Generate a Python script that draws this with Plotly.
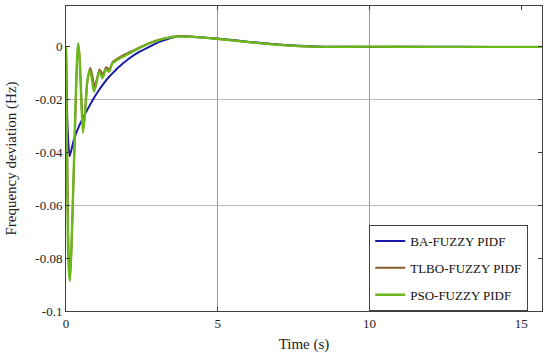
import plotly.graph_objects as go

# ---- data ----
t_ba = [0, 0.05, 0.12, 0.25, 0.43, 0.6, 0.76, 0.92, 1.09, 1.25, 1.42, 1.6, 1.75, 2.08,
        2.41, 2.74, 3.07, 3.4, 3.7, 4.2, 4.95, 5.5, 6.04, 7.0, 7.7, 8.5, 10, 12, 14, 15.7]
y_ba = [0, -0.030, -0.0414, -0.0355, -0.0300, -0.0260, -0.0226, -0.0193, -0.0163, -0.0137,
        -0.0113, -0.0092, -0.0075, -0.0044, -0.0019, 0.0, 0.0019, 0.0032, 0.0040, 0.0038,
        0.0032, 0.0026, 0.0019, 0.0009, 0.0004, 0.0001, 0.0, 0.0001, 0.0, 0.0]

t_tlbo = [0, 0.04, 0.09, 0.14, 0.19, 0.23, 0.28, 0.34, 0.39, 0.42, 0.46, 0.51, 0.57, 0.63,
          0.71, 0.8, 0.87, 0.93, 1.01, 1.1, 1.16, 1.21, 1.27, 1.32, 1.38, 1.43, 1.54, 1.75,
          2.08, 2.41, 2.74, 3.07, 3.4, 3.7, 4.2, 4.95, 6.04, 7.0, 7.7, 8.5, 10, 12, 14, 15.7]
y_tlbo = [0, -0.038, -0.080, -0.0870, -0.073, -0.058, -0.038, -0.014, -0.001, 0.0, -0.006,
          -0.020, -0.0310, -0.0245, -0.0125, -0.0080, -0.0110, -0.0150, -0.0125, -0.0085,
          -0.0095, -0.0107, -0.0090, -0.0077, -0.0082, -0.0085, -0.0057, -0.0040, -0.0021,
          -0.0003, 0.0014, 0.0027, 0.0036, 0.0041, 0.0039, 0.0031, 0.0018, 0.0008, 0.0003,
          0.0, 0.0001, 0.0, 0.0, 0.0]

t_pso = [0, 0.03, 0.08, 0.13, 0.18, 0.22, 0.27, 0.33, 0.38, 0.41, 0.45, 0.5, 0.56, 0.62,
         0.7, 0.78, 0.85, 0.92, 1.0, 1.09, 1.15, 1.2, 1.26, 1.31, 1.37, 1.42, 1.53, 1.75,
         2.08, 2.41, 2.74, 3.07, 3.4, 3.7, 4.2, 4.95, 6.04, 7.0, 7.7, 8.5, 10, 12, 14, 15.7]
y_pso = [0, -0.040, -0.082, -0.0887, -0.075, -0.060, -0.040, -0.015, -0.001, 0.0013, -0.005,
         -0.020, -0.0325, -0.0260, -0.0130, -0.0088, -0.0120, -0.0170, -0.0140, -0.0094,
         -0.0105, -0.0119, -0.0100, -0.0085, -0.0090, -0.0094, -0.0062, -0.0045, -0.0025,
         -0.0005, 0.0013, 0.0026, 0.0035, 0.0040, 0.0038, 0.0031, 0.0018, 0.0008, 0.0003,
         0.0, 0.0001, 0.0, 0.0, 0.0]

x_ticks = [0, 5, 10, 15]
y_ticks = [0, -0.02, -0.04, -0.06, -0.08, -0.1]
y_tick_text = ["0", "-0.02", "-0.04", "-0.06", "-0.08", "-0.1"]

FONT = "Liberation Serif"

fig = go.Figure()
fig.add_trace(go.Scatter(x=t_ba, y=y_ba, mode="lines", name="BA-FUZZY PIDF", legendgroup="a",
                         line=dict(color="#1a1aa8", width=2, shape="spline", smoothing=0.6)))
fig.add_trace(go.Scatter(x=t_tlbo, y=y_tlbo, mode="lines", name="TLBO-FUZZY PIDF", legendgroup="b",
                         line=dict(color="#8b5a2b", width=2, shape="spline", smoothing=0.6)))
fig.add_trace(go.Scatter(x=t_pso, y=y_pso, mode="lines", name="PSO-FUZZY PIDF", legendgroup="c",
                         line=dict(color="#6ab81a", width=2.3, shape="spline", smoothing=0.6)))

axis_common = dict(showline=True, linecolor="#404040", linewidth=1, mirror="ticks",
                   ticks="inside", ticklen=4, tickcolor="#404040", zeroline=False,
                   showgrid=False, automargin=False,
                   tickfont=dict(family=FONT, size=13, color="#222"))

fig.update_layout(
    width=550, height=353,
    margin=dict(l=66, r=8, t=6, b=42),
    paper_bgcolor="white", plot_bgcolor="white",
    font=dict(family=FONT, color="#222"),
    xaxis=dict(range=[0, 15.68], tickvals=x_ticks,
               title=dict(text="Time (s)", font=dict(family=FONT, size=15)),
               minor=dict(tickvals=[5, 10], showgrid=True, gridcolor="#9a9a9a",
                          gridwidth=1, ticklen=0),
               **axis_common),
    yaxis=dict(range=[-0.1, 0.0155], tickvals=y_ticks, ticktext=y_tick_text,
               title=dict(text="Frequency deviation (Hz)", font=dict(family=FONT, size=15)),
               minor=dict(tickvals=[-0.02, -0.06], showgrid=True, gridcolor="#b8b8b8",
                          gridwidth=1, ticklen=0),
               **axis_common),
    legend=dict(x=0.637, y=0.0, xanchor="left", yanchor="bottom",
                bgcolor="white", bordercolor="#404040", borderwidth=1,
                font=dict(family=FONT, size=13, color="#111"),
                tracegroupgap=7, itemwidth=30),
)

fig.write_html("out.html", config={"displayModeBar": False},
               post_script="document.body.style.margin='0';document.body.style.overflow='hidden';")
